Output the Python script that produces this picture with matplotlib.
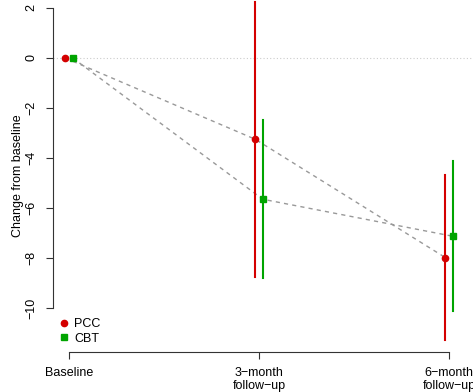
import matplotlib
matplotlib.use("Agg")
import matplotlib.pyplot as plt
from matplotlib.lines import Line2D

plt.rcParams['font.family'] = ['Liberation Sans', 'DejaVu Sans']

# === data ===
timepoints = ["Baseline", "3\u2212month\nfollow\u2212up", "6\u2212month\nfollow\u2212up"]
pcc_mean = [0.0, -3.25, -7.98]
pcc_err = [0.0, 5.5, 3.3]
cbt_mean = [0.0, -5.65, -7.13]
cbt_err = [0.0, 3.15, 3.0]
y_ticks = [2, 0, -2, -4, -6, -8, -10]

RED = "#D40000"
GREEN = "#00A400"

fig = plt.figure(figsize=(4.73, 3.92), dpi=100)
ax = fig.add_axes([53 / 473, 1 - 352 / 392, 420 / 473, 352 / 392])

x = list(range(1, len(timepoints) + 1))
off = 0.02
x_pcc = [v - off for v in x]
x_cbt = [v + off for v in x]

# reference line at zero
ax.axhline(0, color="#cccccc", linestyle=(0, (1, 2)), linewidth=0.8, zorder=1)

# connecting dashed lines
ax.plot(x_pcc, pcc_mean, color="#999999", linestyle=(0, (3, 3)), linewidth=1, zorder=2)
ax.plot(x_cbt, cbt_mean, color="#999999", linestyle=(0, (3, 3)), linewidth=1, zorder=2)

# error bars (skip baseline, which has none)
for xi, m, e in zip(x_pcc[1:], pcc_mean[1:], pcc_err[1:]):
    ax.plot([xi, xi], [m - e, m + e], color=RED, linewidth=1.5, zorder=3)
for xi, m, e in zip(x_cbt[1:], cbt_mean[1:], cbt_err[1:]):
    ax.plot([xi, xi], [m - e, m + e], color=GREEN, linewidth=1.5, zorder=3)

ax.plot(x_pcc, pcc_mean, linestyle="none", marker="o", markersize=4.5, color=RED, zorder=4)
ax.plot(x_cbt, cbt_mean, linestyle="none", marker="s", markersize=4.5, color=GREEN, zorder=4)

ax.set_xlim(1 - 16 / 190, 3 + 24 / 190)
ax.set_ylim(-11.76, 2.32)

# R-like axes: only left and bottom, spanning first to last tick
for s in ["top", "right"]:
    ax.spines[s].set_visible(False)
ax.spines["left"].set_bounds(y_ticks[-1], y_ticks[0])
ax.spines["bottom"].set_bounds(x[0], x[-1])
ax.spines["left"].set_color("#333333")
ax.spines["bottom"].set_color("#333333")

ax.set_xticks(x)
ax.set_xticklabels(timepoints, fontsize=9, linespacing=1.1)
ax.set_yticks(y_ticks)
ax.set_yticklabels([str(t).replace("-", "\u2212") for t in y_ticks], fontsize=9,
                   rotation=90, va="center")
ax.tick_params(axis="both", length=5, width=0.8, color="#333333")
ax.tick_params(axis="x", pad=6)
ax.tick_params(axis="y", pad=6)

ax.set_ylabel("Change from baseline", fontsize=9, labelpad=1)

handles = [
    Line2D([], [], linestyle="none", marker="o", markersize=4.5, color=RED, label="PCC"),
    Line2D([], [], linestyle="none", marker="s", markersize=4.5, color=GREEN, label="CBT"),
]
ax.legend(handles=handles, loc="lower left", bbox_to_anchor=(0.0, 0.0), frameon=False,
          fontsize=9, handlelength=0.6, handletextpad=0.5, labelspacing=0.2,
          borderaxespad=0.2)

fig.savefig("out.png", dpi=100)
